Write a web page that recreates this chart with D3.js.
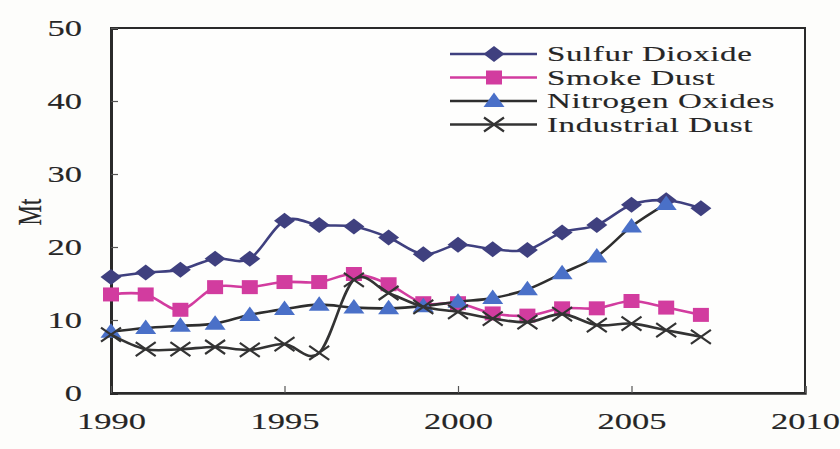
<!DOCTYPE html>
<html lang="en">
<head>
<meta charset="utf-8">
<title>Pollutant emissions</title>
<script src="https://cdn.jsdelivr.net/npm/d3@7"></script>
<style>
  body { margin: 0; background: #fdfdfb; }
  svg { display: block; }
  text { font-family: "Liberation Serif", "Times New Roman", serif; fill: #262626; stroke: #262626; stroke-width: 0.15px; }
</style>
</head>
<body>
<svg id="chart" width="840" height="449"></svg>
<script>
// data (Mt)
var years = d3.range(1990, 2008);
var sulfurDioxide = [15.9, 16.5, 16.9, 18.4, 18.4, 23.6, 23.0, 22.8, 21.3, 19.0, 20.3, 19.7, 19.6, 22.0, 23.0, 25.8, 26.4, 25.3];
var smokeDust = [13.5, 13.5, 11.4, 14.5, 14.5, 15.2, 15.2, 16.3, 14.9, 12.3, 12.3, 10.9, 10.6, 11.6, 11.6, 12.6, 11.7, 10.7];
var nitrogenOxides = [8.4, 8.9, 9.2, 9.5, 10.7, 11.5, 12.1, 11.7, 11.6, 11.9, 12.5, 13.0, 14.2, 16.4, 18.7, 22.8, 25.9];
var industrialDust = [8.0, 6.0, 6.0, 6.3, 5.9, 6.7, 5.5, 15.5, 13.7, 11.8, 11.1, 10.2, 9.7, 10.8, 9.3, 9.5, 8.6, 7.7];
var yTicks = [0, 10, 20, 30, 40, 50];
var xTicks = [1990, 1995, 2000, 2005, 2010];

var series = [
  { name: "Sulfur Dioxide", values: sulfurDioxide, line: "#3f407f", marker: "diamond", fill: "#3f407f" },
  { name: "Smoke Dust", values: smokeDust, line: "#d23c9f", marker: "square", fill: "#d23c9f" },
  { name: "Nitrogen Oxides", values: nitrogenOxides, line: "#2e2e2e", marker: "triangle", fill: "#4a70c8" },
  { name: "Industrial Dust", values: industrialDust, line: "#333333", marker: "cross", fill: "none" }
];

var sx = 1.5; // the picture is stretched sideways

var svg = d3.select("#chart");
var plotLeft = 111, plotRight = 805, plotTop = 28, plotBottom = 393;

var x = d3.scaleLinear().domain([1990, 2010]).range([plotLeft, plotRight]);
var y = d3.scaleLinear().domain([0, 50]).range([plotBottom, plotTop]);

// frame
svg.append("rect")
  .attr("x", plotLeft).attr("y", plotTop)
  .attr("width", plotRight - plotLeft).attr("height", plotBottom - plotTop)
  .attr("fill", "#fefefd")
  .attr("stroke", "#2a2a2a")
  .attr("stroke-width", 2);

// y axis
var yAxis = svg.append("g")
  .attr("transform", "translate(" + plotLeft + ",0)")
  .call(d3.axisLeft(y).tickValues(yTicks).tickSize(-7).tickPadding(0));
yAxis.select(".domain").attr("stroke", "#2a2a2a").attr("stroke-width", 3);
yAxis.selectAll(".tick line").attr("stroke", "#555").attr("stroke-width", 1.2);
yAxis.selectAll(".tick text")
  .attr("x", null).attr("dy", "0.34em")
  .attr("transform", "translate(-29,0) scale(" + sx + ",1)")
  .attr("text-anchor", "end")
  .style("font-size", "23px")
  .style("font-family", "Liberation Serif, serif")
  .attr("fill", "#262626");

// x axis
var xAxis = svg.append("g")
  .attr("transform", "translate(0," + plotBottom + ")")
  .call(d3.axisBottom(x).tickValues(xTicks).tickFormat(d3.format("d")).tickSize(-7).tickPadding(0));
xAxis.select(".domain").attr("stroke", "#2a2a2a").attr("stroke-width", 2.4);
xAxis.selectAll(".tick line").attr("stroke", "#555").attr("stroke-width", 1.2);
xAxis.selectAll(".tick text")
  .attr("y", null).attr("dy", null)
  .attr("transform", "translate(0,36) scale(" + sx + ",1)")
  .attr("text-anchor", "middle")
  .style("font-size", "23px")
  .style("font-family", "Liberation Serif, serif")
  .attr("fill", "#262626");

// y label
svg.append("text")
  .attr("transform", "translate(29,212) scale(" + sx + ",1) rotate(-90)")
  .attr("text-anchor", "middle")
  .attr("dy", "0.34em")
  .style("font-size", "23px")
  .text("Mt");

function markerPath(type) {
  if (type === "diamond") return "M-10.5,0L0,-8L10.5,0L0,8Z";
  if (type === "square") return "M-8,-7H8V7H-8Z";
  if (type === "triangle") return "M-10.5,6L0,-8.5L10.5,6Z";
  return "M-10,-7L10,7M-10,7L10,-7";
}

function drawMarker(g, type, fill, color) {
  var p = g.append("path").attr("d", markerPath(type));
  if (type === "cross") {
    p.attr("fill", "none").attr("stroke", color).attr("stroke-width", 2.2);
  } else {
    p.attr("fill", fill).attr("stroke", "none");
  }
}

var line = d3.line()
  .x(function(d, i) { return x(years[i]); })
  .y(function(d) { return y(d); })
  .curve(d3.curveCatmullRom.alpha(0));

series.forEach(function(s) {
  var g = svg.append("g");
  g.append("path")
    .attr("d", line(s.values))
    .attr("fill", "none")
    .attr("stroke", s.line)
    .attr("stroke-width", 2.6);
  g.selectAll("g.pt")
    .data(s.values)
    .enter()
    .append("g")
    .attr("class", "pt")
    .attr("transform", function(d, i) { return "translate(" + x(years[i]) + "," + y(d) + ")"; })
    .each(function() { drawMarker(d3.select(this), s.marker, s.fill, s.line); });
});

// legend
var legend = svg.append("g");
series.forEach(function(s, i) {
  var ly = 54 + i * 23.5;
  var row = legend.append("g").attr("transform", "translate(0," + ly + ")");
  row.append("line")
    .attr("x1", 450).attr("x2", 537)
    .attr("stroke", s.line).attr("stroke-width", 2.6);
  var m = row.append("g").attr("transform", "translate(494,0)");
  drawMarker(m, s.marker, s.fill, s.line);
  row.append("text")
    .attr("transform", "translate(547,0) scale(" + sx + ",1)")
    .attr("dy", "0.32em")
    .style("font-size", "22px")
    .style("letter-spacing", "0.4px")
    .text(s.name);
});
</script>
</body>
</html>
